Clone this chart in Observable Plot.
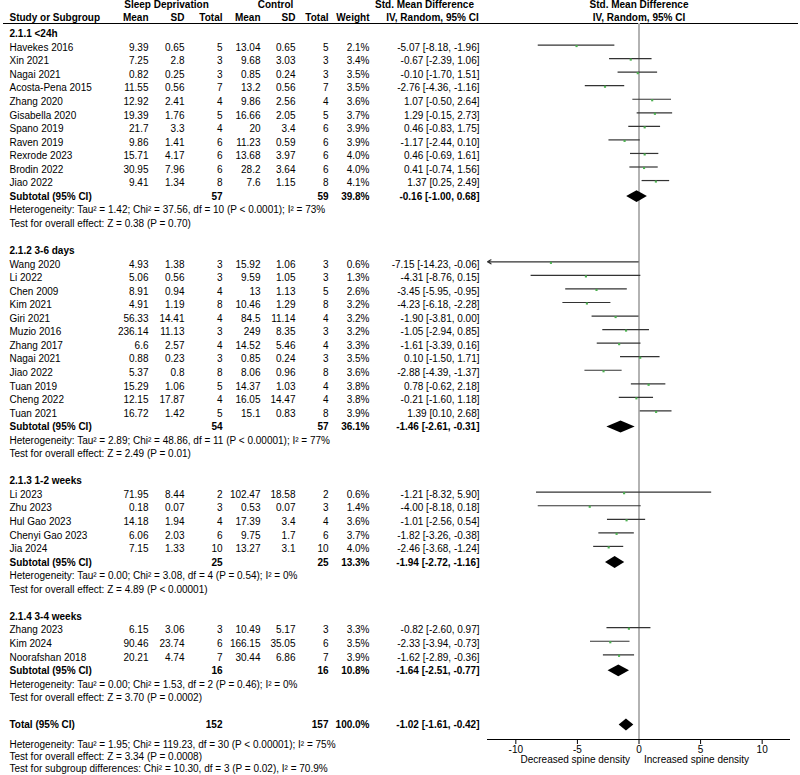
<!DOCTYPE html>
<html><head><meta charset="utf-8">
<script src="https://cdn.jsdelivr.net/npm/d3@7"></script>
<script src="https://cdn.jsdelivr.net/npm/@observablehq/plot@0.6"></script>
<style>
body{margin:0;background:#fff;}
#chart svg{display:block;}
</style></head><body><div id="chart"></div>
<script>
// ---------------- DATA ----------------
const groupLabels = ["2.1.1 <24h", "2.1.2 3-6 days", "2.1.3 1-2 weeks", "2.1.4 3-4 weeks"];
const studyNames = [
  "Havekes 2016","Xin 2021","Nagai 2021","Acosta-Pena 2015","Zhang 2020","Gisabella 2020","Spano 2019","Raven 2019","Rexrode 2023","Brodin 2022","Jiao 2022",
  "Wang 2020","Li 2022","Chen 2009","Kim 2021","Giri 2021","Muzio 2016","Zhang 2017","Nagai 2021","Jiao 2022","Tuan 2019","Cheng 2022","Tuan 2021",
  "Li 2023","Zhu 2023","Hul Gao 2023","Chenyi Gao 2023","Jia 2024",
  "Zhang 2023","Kim 2024","Noorafshan 2018"];
const studyGroup = [0,0,0,0,0,0,0,0,0,0,0, 1,1,1,1,1,1,1,1,1,1,1,1, 2,2,2,2,2, 3,3,3];
const expMean = [9.39,7.25,0.82,11.55,12.92,19.39,21.7,9.86,15.71,30.95,9.41, 4.93,5.06,8.91,4.91,56.33,236.14,6.6,0.88,5.37,15.29,12.15,16.72, 71.95,0.18,14.18,6.06,7.15, 6.15,90.46,20.21];
const expSD   = [0.65,2.8,0.25,0.56,2.41,1.76,3.3,1.41,4.17,7.96,1.34, 1.38,0.56,0.94,1.19,14.41,11.13,2.57,0.23,0.8,1.06,17.87,1.42, 8.44,0.07,1.94,2.03,1.33, 3.06,23.74,4.74];
const expN    = [5,3,3,7,4,5,4,6,6,6,8, 3,3,4,8,4,3,4,3,8,5,4,5, 2,3,4,6,10, 3,6,7];
const ctlMean = [13.04,9.68,0.85,13.2,9.86,16.66,20,11.23,13.68,28.2,7.6, 15.92,9.59,13,10.46,84.5,249,14.52,0.85,8.06,14.37,16.05,15.1, 102.47,0.53,17.39,9.75,13.27, 10.49,166.15,30.44];
const ctlSD   = [0.65,3.03,0.24,0.56,2.56,2.05,3.4,0.59,3.97,3.64,1.15, 1.06,1.05,1.13,1.29,11.14,8.35,5.46,0.24,0.96,1.03,14.47,0.83, 18.58,0.07,3.4,1.7,3.1, 5.17,35.05,6.86];
const ctlN    = [5,3,3,7,4,5,6,6,6,6,8, 3,3,5,8,4,3,4,3,8,4,4,8, 2,3,4,6,10, 3,6,7];
const weight  = [2.1,3.4,3.5,3.5,3.6,3.7,3.9,3.9,4.0,4.0,4.1, 0.6,1.3,2.6,3.2,3.2,3.2,3.3,3.5,3.6,3.8,3.8,3.9, 0.6,1.4,3.6,3.7,4.0, 3.3,3.5,3.9];
const smd     = [-5.07,-0.67,-0.10,-2.76,1.07,1.29,0.46,-1.17,0.46,0.41,1.37, -7.15,-4.31,-3.45,-4.23,-1.90,-1.05,-1.61,0.10,-2.88,0.78,-0.21,1.39, -1.21,-4.00,-1.01,-1.82,-2.46, -0.82,-2.33,-1.62];
const ciLow   = [-8.18,-2.39,-1.70,-4.36,-0.50,-0.15,-0.83,-2.44,-0.69,-0.74,0.25, -14.23,-8.76,-5.95,-6.18,-3.81,-2.94,-3.39,-1.50,-4.39,-0.62,-1.60,0.10, -8.32,-8.18,-2.56,-3.26,-3.68, -2.60,-3.94,-2.89];
const ciHigh  = [-1.96,1.06,1.51,-1.16,2.64,2.73,1.75,0.10,1.61,1.56,2.49, -0.06,0.15,-0.95,-2.28,0.00,0.85,0.16,1.71,-1.37,2.18,1.18,2.68, 5.90,0.18,0.54,-0.38,-1.24, 0.97,-0.73,-0.36];

const subExpN   = [57,54,25,16];
const subCtlN   = [59,57,25,16];
const subWeight = [39.8,36.1,13.3,10.8];
const subSmd    = [-0.16,-1.46,-1.94,-1.64];
const subLow    = [-1.00,-2.61,-2.72,-2.51];
const subHigh   = [0.68,-0.31,-1.16,-0.77];
const subHet = [
  "Heterogeneity: Tau² = 1.42; Chi² = 37.56, df = 10 (P < 0.0001); I² = 73%",
  "Heterogeneity: Tau² = 2.89; Chi² = 48.86, df = 11 (P < 0.00001); I² = 77%",
  "Heterogeneity: Tau² = 0.00; Chi² = 3.08, df = 4 (P = 0.54); I² = 0%",
  "Heterogeneity: Tau² = 0.00; Chi² = 1.53, df = 2 (P = 0.46); I² = 0%"];
const subTest = [
  "Test for overall effect: Z = 0.38 (P = 0.70)",
  "Test for overall effect: Z = 2.49 (P = 0.01)",
  "Test for overall effect: Z = 4.89 (P < 0.00001)",
  "Test for overall effect: Z = 3.70 (P = 0.0002)"];

const totalExpN = 152, totalCtlN = 157, totalWeight = 100.0;
const totalSmd = -1.02, totalLow = -1.61, totalHigh = -0.42;
const footerNotes = [
  "Heterogeneity: Tau² = 1.95; Chi² = 119.23, df = 30 (P < 0.00001); I² = 75%",
  "Test for overall effect: Z = 3.34 (P = 0.0008)",
  "Test for subgroup differences: Chi² = 10.30, df = 3 (P = 0.02), I² = 70.9%"];

const xTicks = [-10, -5, 0, 5, 10];
const axisLabels = ["Decreased spine density", "Increased spine density"];
const headerTop = ["Sleep Deprivation", "Control", "Std. Mean Difference"];
const headerSub = ["Study or Subgroup","Mean","SD","Total","Mean","SD","Total","Weight","IV, Random, 95% CI"];
const panelHeader = ["Std. Mean Difference", "IV, Random, 95% CI"];

// ---------------- LAYOUT ----------------
const W = 800, H = 775;
const ML = 487, MR = 10, MT = 23, MB = 36;
const xDomain = [-12.3, 12.3];
const Y0 = 33.5, ROWH = 13.55;
const rowAt = px => (px - Y0) / ROWH;
const colX = {name: 9, em: 148, es: 184, en: 222, cm: 260, cs: 295, cn: 328, w: 369, ci: 479};
const DIAM_H = 0.44;
const FONT = "'Liberation Sans', Arial, Helvetica, sans-serif";

const fmtW = v => v.toFixed(1) + "%";
const fmtCI = (m, l, h) => `${m.toFixed(2)} [${l.toFixed(2)}, ${h.toFixed(2)}]`;

// build rows
const studies = [];
const subtotals = [];
const cells = [];
const cell = (row, px, anchor, bold, text) => cells.push({row, px, anchor, bold, text: String(text)});
let r = 0;
groupLabels.forEach((g, gi) => {
  cell(r++, colX.name, "start", true, g);
  studyNames.forEach((n, i) => {
    if (studyGroup[i] !== gi) return;
    const row = r++;
    studies.push({row, smd: smd[i], lo: ciLow[i], hi: ciHigh[i]});
    cell(row, colX.name, "start", false, n);
    cell(row, colX.em, "end", false, expMean[i]);
    cell(row, colX.es, "end", false, expSD[i]);
    cell(row, colX.en, "end", false, expN[i]);
    cell(row, colX.cm, "end", false, ctlMean[i]);
    cell(row, colX.cs, "end", false, ctlSD[i]);
    cell(row, colX.cn, "end", false, ctlN[i]);
    cell(row, colX.w, "end", false, fmtW(weight[i]));
    cell(row, colX.ci, "end", false, fmtCI(smd[i], ciLow[i], ciHigh[i]));
  });
  const sr = r++;
  subtotals.push({row: sr, smd: subSmd[gi], lo: subLow[gi], hi: subHigh[gi], z: "g" + gi});
  cell(sr, colX.name, "start", true, "Subtotal (95% CI)");
  cell(sr, colX.en, "end", true, subExpN[gi]);
  cell(sr, colX.cn, "end", true, subCtlN[gi]);
  cell(sr, colX.w, "end", true, fmtW(subWeight[gi]));
  cell(sr, colX.ci, "end", true, fmtCI(subSmd[gi], subLow[gi], subHigh[gi]));
  cell(r++, colX.name, "start", false, subHet[gi]);
  cell(r++, colX.name, "start", false, subTest[gi]);
  r++; // blank
});
const tr = r;
subtotals.push({row: tr, smd: totalSmd, lo: totalLow, hi: totalHigh, z: "total"});
cell(tr, colX.name, "start", true, "Total (95% CI)");
cell(tr, colX.en, "end", true, totalExpN);
cell(tr, colX.cn, "end", true, totalCtlN);
cell(tr, colX.w, "end", true, fmtW(totalWeight));
cell(tr, colX.ci, "end", true, fmtCI(totalSmd, totalLow, totalHigh));
const footerPx = [744, 756, 768];
footerNotes.forEach((t, k) => cell(rowAt(footerPx[k]), colX.name, "start", false, t));

// headers
const h1 = rowAt(4.5), h2 = rowAt(17.5);
cell(h1, 166, "middle", true, headerTop[0]);
cell(h1, 275, "middle", true, headerTop[1]);
cell(h1, 424, "middle", true, headerTop[2]);
const subPx = [colX.name, colX.em, colX.es, colX.en, colX.cm, colX.cs, colX.cn, colX.w, 432];
const subAnchor = ["start","end","end","end","end","end","end","end","middle"];
headerSub.forEach((t, k) => cell(h2, subPx[k], subAnchor[k], true, t));

// diamonds
const diamonds = subtotals.flatMap(d => [
  {z: d.z, row: d.row - DIAM_H, x1: d.smd, x2: d.smd},
  {z: d.z, row: d.row, x1: d.lo, x2: d.hi},
  {z: d.z, row: d.row + DIAM_H, x1: d.smd, x2: d.smd}
]);

// group text cells by (px, anchor, bold)
const groups = d3.groups(cells, c => `${c.px}|${c.anchor}|${c.bold}`);
const textMarks = groups.map(([key, arr]) => Plot.text(arr, {
  y: "row", text: "text", frameAnchor: "left",
  dx: arr[0].px - ML, textAnchor: arr[0].anchor,
  fontWeight: arr[0].bold ? "bold" : "normal", fontSize: 10, fill: "#000"
}));

const inside = studies.filter(d => d.lo >= xDomain[0]);
const clipped = studies.filter(d => d.lo < xDomain[0]);

const chart = Plot.plot({
  width: W, height: H,
  marginLeft: ML, marginRight: MR, marginTop: MT, marginBottom: MB,
  style: {fontFamily: FONT, fontSize: "10px", background: "#fff", color: "#000"},
  x: {domain: xDomain},
  y: {domain: [0, 46], range: [Y0, Y0 + 46 * ROWH], axis: null},
  marks: [
    Plot.ruleY([rowAt(23)], {y: d => d, insetLeft: -(ML - 3), insetRight: -(MR - 2), stroke: "#000", strokeWidth: 1}),
    Plot.ruleX([0], {stroke: "#b3b3b3", strokeWidth: 2}),
    Plot.ruleY(inside, {y: "row", x1: "lo", x2: "hi", dy: -2.5, stroke: "#333", strokeWidth: 1.2}),
    Plot.arrow(clipped, {x1: "hi", x2: xDomain[0], y1: "row", y2: "row", dy: -2.5, stroke: "#333", strokeWidth: 1.2, headLength: 5, bend: 0}),
    Plot.dot(studies, {x: "smd", y: "row", dy: -1.5, symbol: "square", r: 1.2, fill: "#4caf50", stroke: null}),
    Plot.areaX(diamonds, {y: "row", x1: "x1", x2: "x2", z: "z", fill: "#000", curve: "linear"}),
    Plot.ruleY([rowAt(H - MB)], {y: d => d, stroke: "#000", strokeWidth: 1}),
    Plot.axisX({ticks: xTicks, tickSize: 5, tickPadding: 1, tickFormat: d => String(d), fontSize: 10, label: null}),
    Plot.text([axisLabels[0]], {x: () => 0, text: d => d, frameAnchor: "bottom", dy: 23, dx: -9, textAnchor: "end", fontSize: 10}),
    Plot.text([axisLabels[1]], {x: () => 0, text: d => d, frameAnchor: "bottom", dy: 23, dx: 5, textAnchor: "start", fontSize: 10}),
    Plot.text([panelHeader[0]], {x: () => 0, y: () => h1, text: d => d, fontWeight: "bold", fontSize: 10}),
    Plot.text([panelHeader[1]], {x: () => 0, y: () => h2, text: d => d, fontWeight: "bold", fontSize: 10}),
    ...textMarks
  ]
});
document.getElementById("chart").appendChild(chart);
</script></body></html>
